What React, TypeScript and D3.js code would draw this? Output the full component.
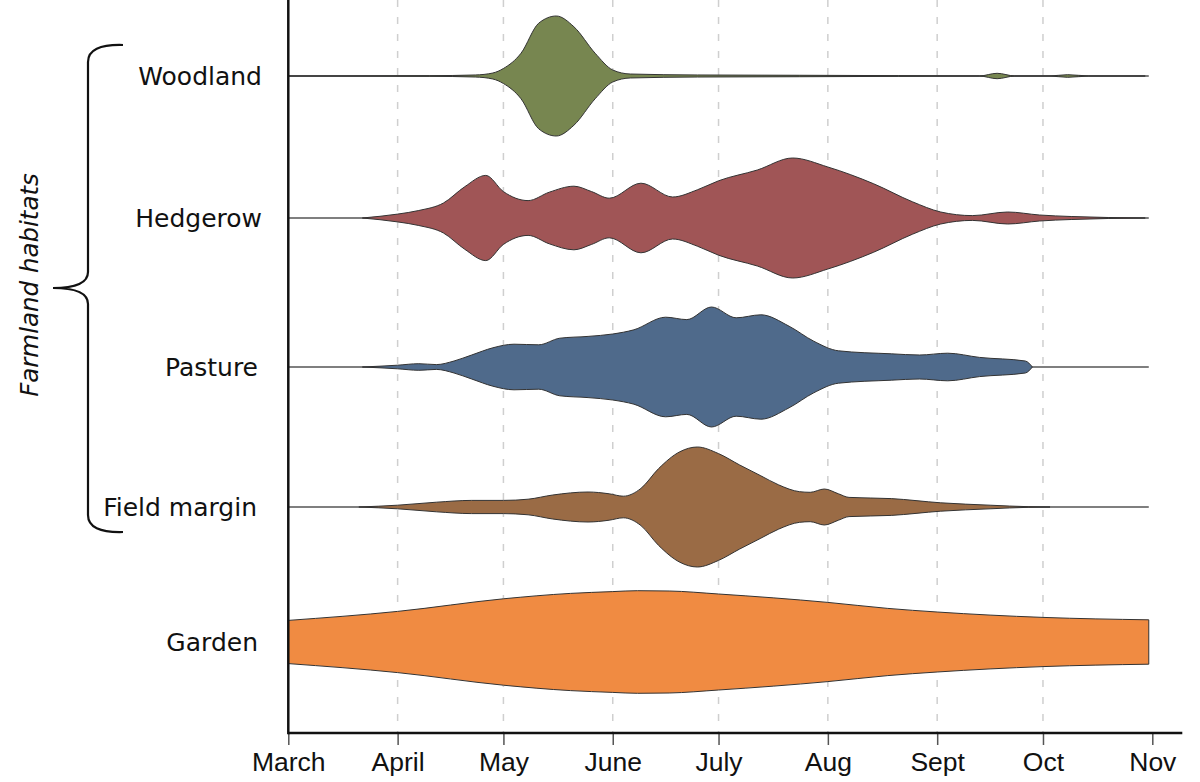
import React, { useEffect, useRef } from "react";
import * as d3 from "d3";

// habitats, top to bottom
const habitats = ["Woodland", "Hedgerow", "Pasture", "Field margin", "Garden"];
const habitatColors = ["#778650", "#a05556", "#4f6a8b", "#9a6b45", "#f08b42"];

// month ticks on the x axis
const monthTicks = ["03-01", "04-01", "05-01", "06-01", "07-01", "08-01", "09-01", "10-01", "11-01"];
const monthLabels = ["March", "April", "May", "June", "July", "Aug", "Sept", "Oct", "Nov"];

// relative density (1 = widest point) by date
const woodland: [string, number][] = [
    ["03-01", 0], ["04-10", 0.005], ["04-23", 0.017], ["04-28", 0.05], ["05-01", 0.125],
    ["05-06", 0.38], ["05-11", 0.88], ["05-16", 1.0], ["05-21", 0.82], ["05-27", 0.38],
    ["06-01", 0.1], ["06-06", 0.033], ["06-25", 0.017], ["07-24", 0.012], ["08-21", 0.006],
    ["09-13", 0.001], ["09-18", 0.045], ["09-23", 0.001], ["10-03", 0.001], ["10-08", 0.022],
    ["10-14", 0.001], ["10-30", 0],
];
const hedgerow: [string, number][] = [
    ["03-22", 0], ["04-01", 0.065], ["04-07", 0.125], ["04-14", 0.25], ["04-20", 0.52],
    ["04-26", 0.71], ["05-01", 0.44], ["05-08", 0.29], ["05-14", 0.43], ["05-21", 0.53],
    ["05-26", 0.44], ["05-31", 0.33], ["06-09", 0.58], ["06-18", 0.35], ["06-25", 0.47],
    ["07-01", 0.62], ["07-12", 0.8], ["07-22", 1.0], ["08-01", 0.85], ["08-14", 0.57],
    ["08-25", 0.27], ["09-02", 0.1], ["09-11", 0.04], ["09-21", 0.1], ["09-30", 0.05],
    ["10-09", 0.025], ["10-30", 0],
];
const pasture: [string, number][] = [
    ["03-22", 0], ["04-01", 0.03], ["04-07", 0.055], ["04-12", 0.04], ["04-17", 0.1],
    ["04-22", 0.2], ["04-28", 0.32], ["05-04", 0.38], ["05-11", 0.37], ["05-17", 0.48],
    ["05-25", 0.51], ["06-01", 0.55], ["06-07", 0.62], ["06-16", 0.83], ["06-22", 0.79],
    ["06-29", 1.0], ["07-06", 0.82], ["07-13", 0.87], ["07-21", 0.68], ["07-28", 0.43],
    ["08-04", 0.27], ["08-19", 0.22], ["08-27", 0.2], ["09-04", 0.23], ["09-13", 0.16],
    ["09-26", 0.1], ["09-28", 0],
];
const fieldMargin: [string, number][] = [
    ["03-21", 0], ["04-01", 0.03], ["04-12", 0.08], ["04-22", 0.11], ["05-01", 0.11],
    ["05-08", 0.13], ["05-15", 0.2], ["05-25", 0.25], ["05-31", 0.22], ["06-04", 0.18],
    ["06-09", 0.31], ["06-14", 0.64], ["06-20", 0.92], ["06-25", 1.0], ["07-01", 0.89],
    ["07-07", 0.7], ["07-13", 0.52], ["07-18", 0.37], ["07-24", 0.255], ["07-27", 0.245],
    ["07-31", 0.3], ["08-04", 0.22], ["08-07", 0.16], ["08-19", 0.14], ["09-02", 0.07],
    ["09-16", 0.03], ["09-27", 0.005], ["10-03", 0],
];
const garden: [string, number][] = [
    ["03-01", 0.36], ["04-01", 0.51], ["05-01", 0.72], ["05-20", 0.81], ["06-01", 0.84],
    ["06-08", 0.855], ["06-17", 0.85], ["07-01", 0.8], ["08-01", 0.66], ["08-18", 0.56],
    ["09-01", 0.5], ["10-01", 0.41], ["10-31", 0.37],
];
const habitatSeries = [woodland, hedgerow, pasture, fieldMargin, garden];

const seasonStart = "03-01";
const seasonEnd = "10-31";

const App: React.FC = () => {
    const svgRef = useRef<SVGSVGElement>(null);

    useEffect(() => {
        if (!svgRef.current) return;

        const width = 1200;
        const height = 782;
        const axisY = 733;
        const parseDay = d3.timeParse("%m-%d");
        const day = (s: string) => parseDay(s) as Date;

        const x = d3.scaleTime()
            .domain([day(monthTicks[0]), day(monthTicks[monthTicks.length - 1])])
            .range([288.3, 1152.3]);

        // violin centre lines (spacing as in the picture)
        const yCenter = d3.scaleOrdinal<string, number>()
            .domain(habitats)
            .range([76, 218, 367, 507, 642]);

        const halfWidth = d3.scaleLinear().domain([0, 1]).range([0, 60]);

        const svg = d3.select(svgRef.current)
            .attr("viewBox", [0, 0, width, height])
            .attr("width", width)
            .attr("height", height);

        svg.selectAll("*").remove();

        // dashed month grid
        svg.append("g")
            .selectAll("line")
            .data(monthTicks.slice(1, -1))
            .join("line")
            .attr("x1", (d) => x(day(d)))
            .attr("x2", (d) => x(day(d)))
            .attr("y1", 0)
            .attr("y2", axisY)
            .attr("stroke", "#cfcfcf")
            .attr("stroke-width", 1.5)
            .attr("stroke-dasharray", "7,10");

        // centre lines
        svg.append("g")
            .selectAll("line")
            .data(habitats.slice(0, 4))
            .join("line")
            .attr("x1", x(day(seasonStart)))
            .attr("x2", x(day(seasonEnd)))
            .attr("y1", (d) => yCenter(d))
            .attr("y2", (d) => yCenter(d))
            .attr("stroke", "#555")
            .attr("stroke-width", 1.3);

        // violins
        habitats.forEach((h, i) => {
            const cy = yCenter(h);
            const area = d3.area<[string, number]>()
                .x((d) => x(day(d[0])))
                .y0((d) => cy + halfWidth(d[1]))
                .y1((d) => cy - halfWidth(d[1]))
                .curve(d3.curveMonotoneX);

            svg.append("path")
                .datum(habitatSeries[i])
                .attr("d", area)
                .attr("fill", habitatColors[i])
                .attr("stroke", "#333")
                .attr("stroke-width", 1)
                .attr("stroke-linejoin", "round");
        });

        // habitat labels
        const labelRight = [262, 262, 258, 257, 258];
        svg.append("g")
            .selectAll("text")
            .data(habitats)
            .join("text")
            .attr("x", (_, i) => labelRight[i])
            .attr("y", (d) => yCenter(d))
            .attr("dy", "0.36em")
            .attr("text-anchor", "end")
            .attr("font-family", "DejaVu Sans, Verdana, sans-serif")
            .attr("font-size", 25)
            .attr("fill", "#111")
            .text((d) => d);

        // brace grouping the farmland habitats
        svg.append("path")
            .attr("d", "M123,45 Q88,44 88,62 L88,272 Q88,288 53,288 Q88,288 88,304 L88,515 Q88,533 123,532")
            .attr("fill", "none")
            .attr("stroke", "#111")
            .attr("stroke-width", 2.2);

        svg.append("text")
            .attr("transform", "translate(38,285) rotate(-90)")
            .attr("text-anchor", "middle")
            .attr("font-family", "DejaVu Sans, Verdana, sans-serif")
            .attr("font-style", "italic")
            .attr("font-size", 24.5)
            .attr("fill", "#111")
            .text("Farmland habitats");

        // x axis
        const xAxis = svg.append("g")
            .attr("transform", `translate(0,${axisY})`)
            .call(
                d3.axisBottom(x)
                    .tickValues(monthTicks.map(day))
                    .tickFormat((_, i) => monthLabels[i])
                    .tickSize(12)
                    .tickPadding(7),
            );

        xAxis.select(".domain").remove();
        xAxis.selectAll(".tick line")
            .attr("stroke", "#555")
            .attr("stroke-width", 1.5);
        xAxis.selectAll(".tick text")
            .attr("font-family", "Liberation Sans, Arial, sans-serif")
            .attr("font-size", 26.5)
            .attr("fill", "#111");

        svg.append("line")
            .attr("x1", x.range()[0])
            .attr("x2", x.range()[1] + 30)
            .attr("y1", axisY)
            .attr("y2", axisY)
            .attr("stroke", "#111")
            .attr("stroke-width", 2.5);

        // y axis line
        svg.append("line")
            .attr("x1", x.range()[0])
            .attr("x2", x.range()[0])
            .attr("y1", 0)
            .attr("y2", axisY + 1.25)
            .attr("stroke", "#111")
            .attr("stroke-width", 2.5);
    }, []);

    return (
        <svg
            ref={svgRef}
            style={{ position: "absolute", left: 0, top: 0, background: "#fff" }}
        />
    );
};

export default App;
